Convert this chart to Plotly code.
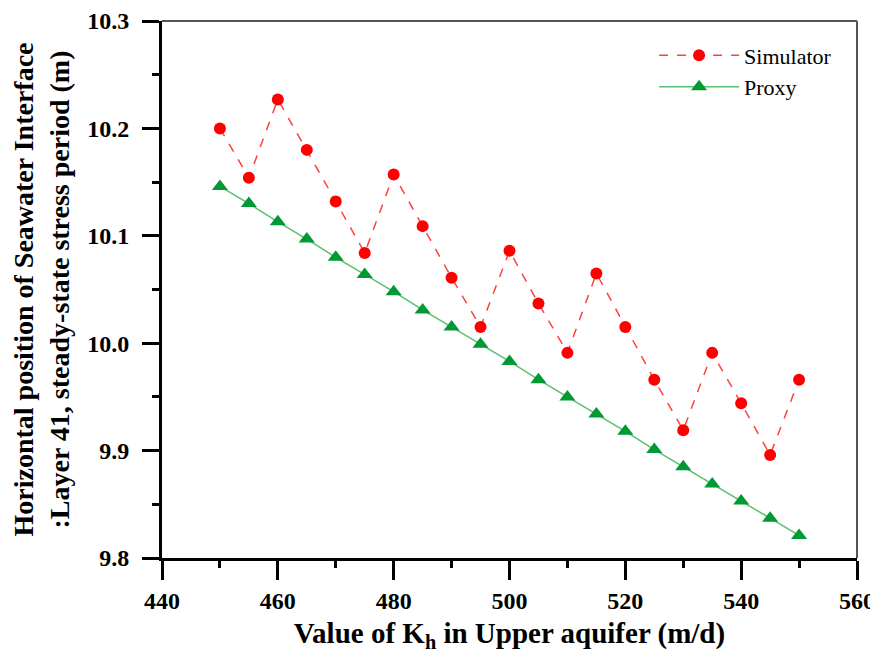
import plotly.graph_objects as go

# Kh values (m/d)
kh = [450, 455, 460, 465, 470, 475, 480, 485, 490, 495, 500,
      505, 510, 515, 520, 525, 530, 535, 540, 545, 550]

simulator = [10.200, 10.154, 10.227, 10.180, 10.132, 10.084, 10.157, 10.109, 10.061, 10.015, 10.086,
             10.037, 9.991, 10.065, 10.015, 9.966, 9.919, 9.991, 9.944, 9.896, 9.966]

proxy = [10.146, 10.130, 10.113, 10.097, 10.080, 10.064, 10.048, 10.031, 10.015, 9.999, 9.983,
         9.966, 9.950, 9.934, 9.918, 9.901, 9.885, 9.869, 9.853, 9.837, 9.821]

serif = "Liberation Serif, Times New Roman, serif"

fig = go.Figure()
fig.add_trace(go.Scatter(
    x=kh, y=simulator, name="Simulator", mode="lines+markers",
    line=dict(color="#ff4040", width=1.5, dash="dash"),
    marker=dict(symbol="circle", size=12, color="#ff0000"),
))
fig.add_trace(go.Scatter(
    x=kh, y=proxy, name="Proxy", mode="lines+markers",
    line=dict(color="#5cbf6e", width=1.5),
    marker=dict(symbol="triangle-up", size=14, color="#009933"),
))

axis_common = dict(
    showgrid=False, zeroline=False, showline=True, linecolor="black", linewidth=3,
    mirror=False, ticks="outside", tickwidth=3, tickcolor="black", automargin=False,
    ticklabeloverflow="allow",
    tickfont=dict(family=serif, size=24, color="black", weight="bold"),
)

fig.update_xaxes(
    range=[440, 560], dtick=20, ticklen=19, **axis_common,
    minor=dict(ticks="outside", ticklen=7, tickwidth=3, tickcolor="black", dtick=10),
    title=dict(text="Value of K<sub>h</sub> in Upper aquifer (m/d)",
               font=dict(family=serif, size=29, color="black", weight="bold"), standoff=24),
)
fig.update_yaxes(
    range=[9.8, 10.3], dtick=0.1, tickformat=".1f", ticklen=17, ticklabelstandoff=8,
    **axis_common,
    minor=dict(ticks="outside", ticklen=7, tickwidth=3, tickcolor="black", dtick=0.05),
    title=dict(text="Horizontal position of Seawater Interface<br>:Layer 41, steady-state stress period (m)",
               font=dict(family=serif, size=28, color="black", weight="bold"), standoff=20),
)

# thin frame on top and right
fig.add_shape(type="line", xref="paper", yref="paper", x0=0, x1=1, y0=1, y1=1,
              line=dict(color="#555555", width=2))
fig.add_shape(type="line", xref="paper", yref="paper", x0=1, x1=1, y0=0, y1=1,
              line=dict(color="#555555", width=2))

# page body has an 8px margin, so the figure is sized to fit inside the window
fig.update_layout(
    width=870, height=645,
    margin=dict(l=154, r=21, t=13, b=95),
    paper_bgcolor="white", plot_bgcolor="white",
    legend=dict(x=0.708, y=0.975, xanchor="left", yanchor="top",
                font=dict(family=serif, size=22, color="black"),
                bgcolor="rgba(0,0,0,0)", itemwidth=80),
)

fig.write_html("out.html")
